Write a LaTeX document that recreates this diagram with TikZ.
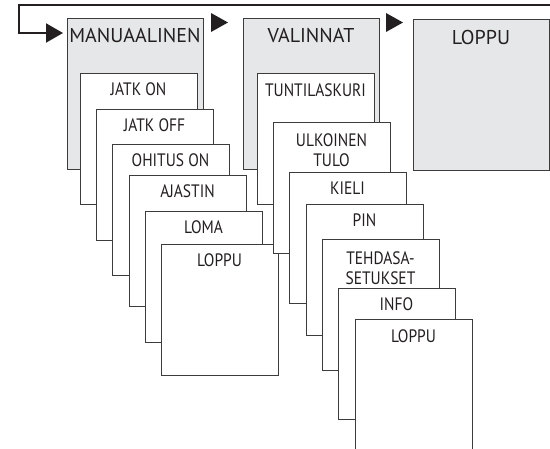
\documentclass[tikz,border=0pt]{standalone}
\usepackage{fontspec}
\setmainfont{PT Sans}
\newfontfamily\subfont[FakeStretch=0.86]{PT Sans}
\usetikzlibrary{arrows.meta}
\definecolor{linec}{HTML}{3C3C3C}
\definecolor{inkc}{HTML}{231F20}
\definecolor{grayfill}{HTML}{E6E7E8}
\tikzset{
  x=1pt, y=-1pt,
  boxbase/.style={draw=linec, line width=0.9pt, inner sep=0pt, outer sep=0pt, anchor=north west},
  mainbox/.style={boxbase, fill=grayfill, minimum width=136pt, minimum height=151pt},
  subbox/.style={boxbase, fill=white, minimum width=117pt, minimum height=131pt},
  mainlbl/.style={anchor=base, inner sep=0pt, text=inkc, font=\fontsize{20}{24}\selectfont},
  lbl/.style={anchor=base, inner sep=0pt, text=inkc, font=\subfont\fontsize{18}{20.5}\selectfont, align=center},
  tri/.style={fill=inkc},
}
\begin{document}
\begin{tikzpicture}
\useasboundingbox (0,0) rectangle (550,449);
% main boxes
\node[mainbox] (manu) at (67,18) {};
\node[mainbox] (vali) at (243,18) {};
\node[mainbox] (lopm) at (413,19.5) {};
\node[mainlbl] (tmanu) at ([yshift=-24.7pt]manu.north) {MANUAALINEN};
\node[mainlbl] (tvali) at ([yshift=-24.7pt]vali.north) {VALINNAT};
\node[mainlbl] (tlopm) at ([yshift=-25pt]lopm.north) {LOPPU};
% return connector
\coordinate (start) at (552,5);
\coordinate (corner) at (19,33);
\coordinate (entry) at (63,33);
\draw[inkc, line width=2pt, -{Triangle[length=17pt,width=19pt]}] (start) -| (corner) -- (entry);
% arrows between main boxes
\fill[tri] ([xshift=8pt,yshift=5pt]manu.north east) -- ++(0,19) -- ++(17,-9.5) -- cycle;
\fill[tri] ([xshift=7pt,yshift=5pt]vali.north east) -- ++(0,19) -- ++(17,-9.5) -- cycle;
% left stack
\node[subbox] (s1) at (80,73) {};
\node[lbl] (t1) at ([yshift=-23pt]s1.north) {JATK ON};
\node[subbox] (s2) at (96,109) {};
\node[lbl] (t2) at ([yshift=-23pt]s2.north) {JATK OFF};
\node[subbox] (s3) at (112,144) {};
\node[lbl] (t3) at ([yshift=-23pt]s3.north) {OHITUS ON};
\node[subbox] (s4) at (129,175) {};
\node[lbl] (t4) at ([yshift=-23pt]s4.north) {AJASTIN};
\node[subbox] (s5) at (145,211) {};
\node[lbl] (t5) at ([yshift=-23pt]s5.north) {LOMA};
\node[subbox] (s6) at (161,244) {};
\node[lbl] (t6) at ([yshift=-23pt]s6.north) {LOPPU};
% right stack
\node[subbox] (r1) at (257,73) {};
\node[lbl] (u1) at ([yshift=-23.3pt]r1.north) {TUNTILASKURI};
\node[subbox] (r2) at (273,122) {};
\node[lbl, anchor=north] (u2) at ([yshift=-11pt]r2.north) {ULKOINEN\\TULO};
\node[subbox] (r3) at (289,172) {};
\node[lbl] (u3) at ([yshift=-22.5pt]r3.north) {KIELI};
\node[subbox] (r4) at (306,204) {};
\node[lbl] (u4) at ([yshift=-23pt]r4.north) {PIN};
\node[subbox] (r5) at (322,239) {};
\node[lbl, anchor=north] (u5) at ([yshift=-12pt]r5.north) {TEHDASA-\\SETUKSET};
\node[subbox] (r6) at (338,288) {};
\node[lbl] (u6) at ([yshift=-23pt]r6.north) {INFO};
\node[subbox] (r7) at (355,319) {};
\node[lbl] (u7) at ([yshift=-24pt]r7.north) {LOPPU};
\end{tikzpicture}
\end{document}
